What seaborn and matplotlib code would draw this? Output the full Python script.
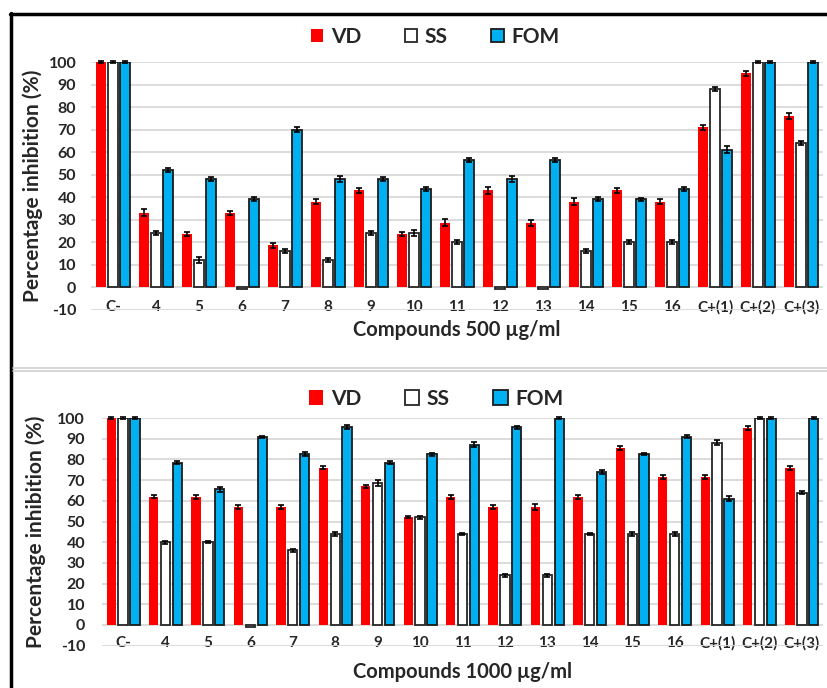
import numpy as np
import pandas as pd
import matplotlib
matplotlib.use("Agg")
import matplotlib.pyplot as plt
import matplotlib.patches as mpatches
from matplotlib.lines import Line2D
import seaborn as sns

categories = ["C-", "4", "5", "6", "7", "8", "9", "10", "11", "12", "13",
              "14", "15", "16", "C+(1)", "C+(2)", "C+(3)"]
series = ["VD", "SS", "FOM"]

# 500 ug/ml
vd_500 = [100, 33, 23.5, 33, 18.5, 38, 43, 23.5, 28.5, 43, 28.5, 38, 43, 38, 71, 95, 76]
ss_500 = [100, 24, 12, -0.8, 16, 12, 24, 24, 20, -0.8, -0.8, 16, 20, 20, 88, 100, 64]
fom_500 = [100, 52, 48, 39, 70, 48, 48, 43.5, 56.5, 48, 56.5, 39, 39, 43.5, 61, 100, 100]
vd_500_err = [0.5, 1.5, 0.8, 1.0, 1.0, 1.0, 1.0, 0.8, 1.6, 1.5, 1.3, 1.5, 1.0, 1.3, 1.0, 1.0, 1.2]
ss_500_err = [0.5, 1.0, 1.5, 0.0, 0.7, 0.8, 0.8, 1.5, 0.8, 0.0, 0.0, 0.8, 0.8, 0.8, 1.0, 0.5, 0.7]
fom_500_err = [0.5, 0.7, 0.7, 0.9, 0.9, 1.3, 0.7, 0.8, 1.0, 1.2, 1.0, 0.8, 0.7, 0.8, 1.5, 0.5, 0.5]

# 1000 ug/ml
vd_1000 = [100, 62, 62, 57, 57, 76, 67, 52, 62, 57, 57, 62, 85.5, 71.5, 71.5, 95, 76]
ss_1000 = [100, 40, 40, -0.8, 36, 44, 68.5, 52, 44, 24, 24, 44, 44, 44, 88, 100, 64]
fom_1000 = [100, 78.5, 65.5, 91, 82.5, 95.5, 78.5, 82.5, 87, 95.5, 100, 74, 82.5, 91, 61, 100, 100]
vd_1000_err = [0.5, 0.8, 1.0, 0.8, 1.0, 0.8, 0.7, 0.5, 0.9, 0.8, 1.3, 0.9, 1.0, 0.9, 0.9, 1.0, 1.0]
ss_1000_err = [0.5, 0.8, 0.5, 0.0, 0.6, 0.8, 1.5, 0.7, 0.4, 0.8, 0.6, 0.4, 0.8, 0.9, 1.2, 0.5, 0.6]
fom_1000_err = [0.5, 0.8, 1.3, 0.5, 1.0, 1.0, 0.9, 0.8, 1.2, 0.8, 0.5, 0.9, 0.6, 0.6, 1.3, 0.5, 0.5]

y_ticks = list(range(-10, 101, 10))
xlabels = ["Compounds 500 µg/ml", "Compounds 1000 µg/ml"]

colors = {"VD": "#FF0000", "SS": "#FFFFFF", "FOM": "#00B0F0"}
edges = {"VD": "#FF0000", "SS": "#262626", "FOM": "#1a1a1a"}

sns.set_theme(style="white")
plt.rcParams["font.family"] = ["Lato", "DejaVu Sans"]
plt.rcParams["font.weight"] = "bold"

fig = plt.figure(figsize=(8.28, 6.88), dpi=100)

def px(x0, y0, x1, y1):
    W, H = 828, 688
    return [x0 / W, 1 - y1 / H, (x1 - x0) / W, (y1 - y0) / H]


def panel(rect, vals, errs, xlabel, legend_y, legend_x, ytick_pad, ylab_x, xlab_pad, handle):
    ax = fig.add_axes(rect)
    df = pd.DataFrame({
        "Compound": np.tile(categories, 3),
        "Series": np.repeat(series, len(categories)),
        "Value": np.concatenate(vals),
    })
    sns.barplot(data=df, x="Compound", y="Value", hue="Series", order=categories,
                hue_order=series, palette=colors, saturation=1, width=0.84, gap=0.22,
                errorbar=None, legend=False, ax=ax, zorder=3)
    for cont, s, e in zip(ax.containers, series, errs):
        xs = []
        hs = []
        for bar in cont:
            bar.set_edgecolor(edges[s])
            bar.set_linewidth(1.3 if s != "VD" else 0.0)
            xs.append(bar.get_x() + bar.get_width() / 2)
            hs.append(bar.get_height())
        e = np.asarray(e)
        m = e > 0
        ax.errorbar(np.array(xs)[m], np.array(hs)[m], yerr=e[m], fmt="none",
                    ecolor="black", elinewidth=1.2, capsize=2.5, capthick=1.2,
                    zorder=4, clip_on=False)
    ax.set_ylim(-10, 100)
    ax.set_xlim(-0.5, len(categories) - 0.5)
    ax.set_yticks(y_ticks)
    ax.set_yticklabels([str(t) for t in y_ticks], fontsize=11.5, fontweight="bold")
    ax.yaxis.grid(True, color="#D9D9D9", lw=1.3, zorder=0)
    ax.set_axisbelow(True)
    for sp in ax.spines.values():
        sp.set_visible(False)
    ax.tick_params(axis="y", length=0, pad=ytick_pad)
    ax.tick_params(axis="x", length=0, pad=-7)
    for lab in ax.get_xticklabels():
        lab.set_fontsize(11)
        lab.set_fontweight("bold")
        lab.set_bbox(dict(facecolor="white", edgecolor="none", pad=0.6))
        lab.set_zorder(5)
    ax.set_xlabel(xlabel, fontsize=14.5, fontweight="bold", labelpad=xlab_pad)
    ax.set_ylabel("Percentage inhibition (%)", fontsize=15, fontweight="bold")
    ax.yaxis.set_label_coords(ylab_x, 0.5)
    handles = [mpatches.Patch(facecolor=colors[s], edgecolor=edges[s] if s != "VD" else "none",
                              linewidth=1.3, label=s) for s in series]
    fig.legend(handles=handles, loc="center", bbox_to_anchor=(legend_x, legend_y),
               ncol=3, frameon=False, handlelength=handle, handleheight=handle,
               handletextpad=0.35, columnspacing=2.1,
               prop={"size": 15, "weight": "bold"})
    return ax

ax1 = panel(px(91.5, 62, 822.5, 309.5), [vd_500, ss_500, fom_500],
            [vd_500_err, ss_500_err, fom_500_err], xlabels[0], 1 - 37 / 688, 435 / 828,
            11, -0.066, 4, 0.6)
ax2 = panel(px(101.8, 418, 823.2, 645.7), [vd_1000, ss_1000, fom_1000],
            [vd_1000_err, ss_1000_err, fom_1000_err], xlabels[1], 1 - 399 / 688, 436 / 828,
            12, -0.078, 8, 0.7)

# frame lines
fig.add_artist(Line2D([10 / 828, 1], [1 - 13.5 / 688] * 2, color="black", lw=2.5,
                      transform=fig.transFigure))
fig.add_artist(Line2D([11 / 828] * 2, [0, 1 - 12.5 / 688], color="black", lw=2.5,
                      transform=fig.transFigure))
for yy in (367.5, 371):
    fig.add_artist(Line2D([13 / 828, 1], [1 - yy / 688] * 2, color="#CFCFCF", lw=1.2,
                          transform=fig.transFigure))

fig.savefig("out.png", dpi=100)
